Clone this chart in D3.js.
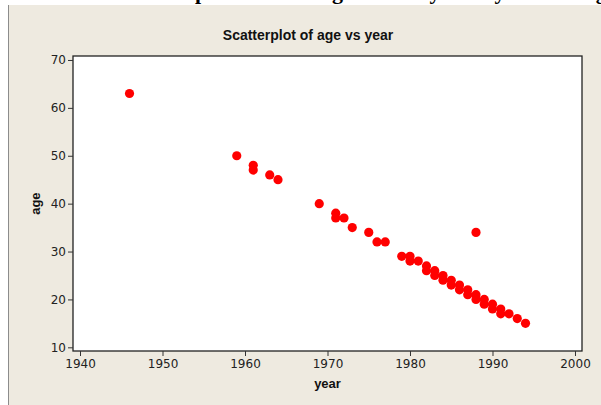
<!DOCTYPE html>
<html>
<head>
<meta charset="utf-8">
<script src="https://cdn.jsdelivr.net/npm/d3@7"></script>
<style>
  body { margin: 0; background: #fff; }
  svg { display: block; }
</style>
</head>
<body>
<div id="chart"></div>
<script>
// data
const years = [1946, 1959, 1961, 1961, 1963, 1964, 1969, 1971, 1971, 1972, 1973, 1975,
  1976, 1977, 1979, 1980, 1980, 1981, 1982, 1982, 1983, 1983, 1984, 1984, 1985, 1985,
  1986, 1986, 1987, 1987, 1988, 1988, 1988, 1989, 1989, 1990, 1990, 1991, 1991, 1992,
  1993, 1994];
const ages = [63, 50, 48, 47, 46, 45, 40, 38, 37, 37, 35, 34,
  32, 32, 29, 29, 28, 28, 27, 26, 26, 25, 25, 24, 24, 23,
  23, 22, 22, 21, 21, 20, 34, 20, 19, 19, 18, 18, 17, 17,
  16, 15];
const xTicks = [1940, 1950, 1960, 1970, 1980, 1990, 2000];
const yTicks = [10, 20, 30, 40, 50, 60, 70];

const width = 601, height = 405;
const plot = {left: 73, right: 582, top: 56, bottom: 351};

const svg = d3.select("#chart").append("svg")
    .attr("width", width)
    .attr("height", height);

// cut-off heading of the page above the figure (only descenders show)
const clipped = [["up", 195], ["age", 337], ["by", 429], ["by", 494], ["ing", 592]];
svg.append("g")
  .selectAll("text")
  .data(clipped)
  .join("text")
    .attr("x", d => d[1]).attr("y", -1)
    .attr("text-anchor", "middle")
    .style("font-family", "'Liberation Serif', serif")
    .style("font-weight", "bold")
    .style("font-size", "22px")
    .attr("fill", "#000")
    .text(d => d[0]);

// beige panel
svg.append("rect")
    .attr("x", 8).attr("y", 5)
    .attr("width", width - 8).attr("height", height - 5)
    .attr("fill", "#eeeae0");
svg.append("line")
    .attr("x1", 8.5).attr("x2", 8.5)
    .attr("y1", 5).attr("y2", height)
    .attr("stroke", "#8c8c8c");

const x = d3.scaleLinear().domain([1939.15, 2000.85]).range([plot.left, plot.right]);
const y = d3.scaleLinear().domain([9.23, 70.83]).range([plot.bottom, plot.top]);

svg.append("rect")
    .attr("x", plot.left).attr("y", plot.top)
    .attr("width", plot.right - plot.left)
    .attr("height", plot.bottom - plot.top)
    .attr("fill", "#fff")
    .attr("stroke", "#222")
    .attr("stroke-width", 1.3);

const xAxis = svg.append("g")
    .attr("transform", `translate(0,${plot.bottom})`)
    .call(d3.axisBottom(x).tickValues(xTicks).tickFormat(d3.format("d")).tickSize(5).tickPadding(3));
const yAxis = svg.append("g")
    .attr("transform", `translate(${plot.left},0)`)
    .call(d3.axisLeft(y).tickValues(yTicks).tickSize(5).tickPadding(2));

[xAxis, yAxis].forEach(g => {
  g.select(".domain").remove();
  g.selectAll(".tick line").attr("stroke", "#333");
  g.selectAll(".tick text")
      .attr("fill", "#222")
      .style("font-family", "'DejaVu Sans', sans-serif")
      .style("font-size", "12px");
});

// points
svg.append("g")
  .selectAll("circle")
  .data(years.map((d, i) => ({year: d, age: ages[i]})))
  .join("circle")
    .attr("cx", d => x(d.year))
    .attr("cy", d => y(d.age))
    .attr("r", 4.6)
    .attr("fill", "#ff0000");

// title and labels
svg.append("text")
    .attr("x", 308).attr("y", 40)
    .attr("text-anchor", "middle")
    .style("font-family", "'Liberation Sans', Arial, sans-serif")
    .style("font-weight", "bold")
    .style("font-size", "14px")
    .attr("fill", "#111")
    .text("Scatterplot of age vs year");

svg.append("text")
    .attr("x", x(1970)).attr("y", 388)
    .attr("text-anchor", "middle")
    .style("font-family", "'Liberation Sans', Arial, sans-serif")
    .style("font-weight", "bold")
    .style("font-size", "13px")
    .attr("fill", "#111")
    .text("year");

svg.append("text")
    .attr("transform", `translate(40,${y(40)}) rotate(-90)`)
    .attr("text-anchor", "middle")
    .style("font-family", "'Liberation Sans', Arial, sans-serif")
    .style("font-weight", "bold")
    .style("font-size", "13px")
    .attr("fill", "#111")
    .text("age");
</script>
</body>
</html>
